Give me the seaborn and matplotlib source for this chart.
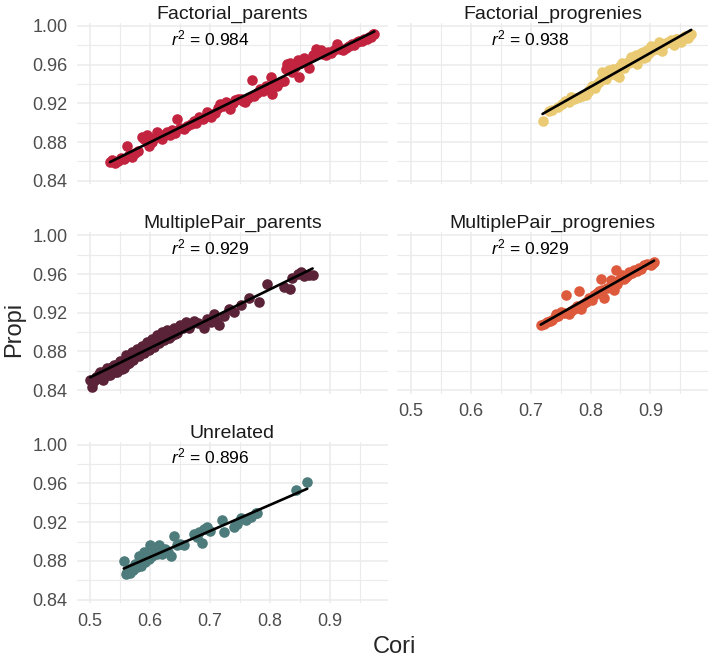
import matplotlib
matplotlib.use("Agg")
import matplotlib.pyplot as plt
from matplotlib.ticker import FormatStrFormatter, MultipleLocator
import pandas as pd
import seaborn as sns

# --- data ---

groups = [
    "Factorial_parents",
    "Factorial_progrenies",
    "MultiplePair_parents",
    "MultiplePair_progrenies",
    "Unrelated",
]
colors = ["#C2243F", "#EACB74", "#5A2337", "#DD5A3D", "#4E7B7B"]
r2_labels = ["0.984", "0.938", "0.929", "0.929", "0.896"]

fp_cori = [
    0.533, 0.537, 0.541, 0.546, 0.551, 0.556, 0.561, 0.565, 0.570, 0.575,
    0.580, 0.586, 0.590, 0.594, 0.598, 0.603, 0.607, 0.611, 0.615, 0.620,
    0.624, 0.628, 0.633, 0.637, 0.641, 0.645, 0.650, 0.656, 0.662, 0.668,
    0.673, 0.677, 0.681, 0.688, 0.695, 0.701, 0.708, 0.713, 0.717, 0.722,
    0.726, 0.731, 0.734, 0.738, 0.742, 0.747, 0.751, 0.755, 0.759, 0.764,
    0.770, 0.773, 0.778, 0.784, 0.788, 0.793, 0.797, 0.801, 0.804, 0.808,
    0.812, 0.817, 0.823, 0.826, 0.829, 0.834, 0.837, 0.841, 0.846, 0.848,
    0.852, 0.857, 0.861, 0.865, 0.871, 0.876, 0.880, 0.885, 0.889, 0.893,
    0.897, 0.901, 0.906, 0.912, 0.916, 0.921, 0.926, 0.932, 0.936, 0.940,
    0.945, 0.949, 0.953, 0.957, 0.961, 0.965, 0.968, 0.971, 0.974,
]
fp_propi = [
    0.859, 0.861, 0.858, 0.860, 0.863, 0.862, 0.876, 0.867, 0.865, 0.869,
    0.871, 0.885, 0.883, 0.887, 0.876, 0.880, 0.884, 0.890, 0.886, 0.883,
    0.888, 0.890, 0.887, 0.892, 0.889, 0.904, 0.894, 0.893, 0.897, 0.899,
    0.902, 0.900, 0.906, 0.904, 0.911, 0.906, 0.910, 0.915, 0.919, 0.917,
    0.921, 0.918, 0.914, 0.920, 0.923, 0.924, 0.925, 0.922, 0.921, 0.926,
    0.944, 0.928, 0.931, 0.935, 0.933, 0.938, 0.936, 0.947, 0.930, 0.940,
    0.938, 0.942, 0.943, 0.956, 0.961, 0.962, 0.952, 0.958, 0.965, 0.947,
    0.962, 0.967, 0.964, 0.957, 0.970, 0.976, 0.973, 0.975, 0.971, 0.970,
    0.973, 0.972, 0.975, 0.981, 0.976, 0.975, 0.977, 0.979, 0.981, 0.980,
    0.983, 0.984, 0.984, 0.987, 0.986, 0.989, 0.989, 0.992, 0.992,
]

fg_cori = [
    0.720, 0.731, 0.736, 0.745, 0.753, 0.758, 0.764, 0.767, 0.772, 0.775,
    0.781, 0.786, 0.792, 0.796, 0.798, 0.803, 0.807, 0.811, 0.814, 0.818,
    0.820, 0.823, 0.826, 0.829, 0.831, 0.835, 0.838, 0.842, 0.845, 0.848,
    0.848, 0.851, 0.853, 0.856, 0.859, 0.862, 0.865, 0.867, 0.870, 0.873,
    0.876, 0.878, 0.881, 0.884, 0.887, 0.890, 0.892, 0.895, 0.898, 0.901,
    0.905, 0.909, 0.912, 0.915, 0.918, 0.920, 0.923, 0.926, 0.930, 0.934,
    0.937, 0.940, 0.943, 0.945, 0.948, 0.951, 0.954, 0.957, 0.960, 0.962,
    0.965, 0.968,
]
fg_propi = [
    0.902, 0.912, 0.913, 0.916, 0.919, 0.922, 0.921, 0.927, 0.924, 0.926,
    0.927, 0.928, 0.929, 0.932, 0.934, 0.938, 0.936, 0.940, 0.942, 0.944,
    0.952, 0.948, 0.945, 0.951, 0.954, 0.950, 0.955, 0.949, 0.956, 0.958,
    0.947, 0.960, 0.962, 0.957, 0.961, 0.963, 0.962, 0.968, 0.964, 0.966,
    0.970, 0.961, 0.968, 0.972, 0.973, 0.967, 0.968, 0.975, 0.972, 0.979,
    0.975, 0.976, 0.980, 0.983, 0.978, 0.974, 0.981, 0.982, 0.983, 0.985,
    0.982, 0.980, 0.986, 0.987, 0.985, 0.983, 0.988, 0.990, 0.988, 0.988,
    0.990, 0.992,
]

mp_cori = [
    0.500, 0.503, 0.506, 0.510, 0.514, 0.517, 0.520, 0.522, 0.525, 0.528,
    0.530, 0.533, 0.536, 0.539, 0.541, 0.545, 0.547, 0.550, 0.553, 0.556,
    0.558, 0.559, 0.562, 0.564, 0.567, 0.570, 0.572, 0.575, 0.578, 0.581,
    0.583, 0.586, 0.589, 0.591, 0.595, 0.598, 0.600, 0.603, 0.606, 0.608,
    0.611, 0.614, 0.617, 0.620, 0.623, 0.626, 0.628, 0.631, 0.634, 0.637,
    0.639, 0.642, 0.645, 0.648, 0.650, 0.655, 0.659, 0.664, 0.668, 0.673,
    0.680, 0.690, 0.695, 0.701, 0.706, 0.710, 0.715, 0.723, 0.731, 0.740,
    0.751, 0.765, 0.781, 0.795, 0.823, 0.834, 0.837, 0.846, 0.851, 0.857,
    0.865, 0.871,
]
mp_propi = [
    0.851, 0.843, 0.849, 0.854, 0.857, 0.859, 0.852, 0.851, 0.860, 0.863,
    0.856, 0.856, 0.864, 0.866, 0.859, 0.859, 0.867, 0.870, 0.862, 0.863,
    0.871, 0.876, 0.867, 0.868, 0.874, 0.879, 0.871, 0.877, 0.883, 0.875,
    0.880, 0.886, 0.878, 0.883, 0.890, 0.882, 0.887, 0.893, 0.885, 0.890,
    0.897, 0.889, 0.893, 0.900, 0.892, 0.897, 0.902, 0.894, 0.896, 0.901,
    0.904, 0.898, 0.899, 0.904, 0.907, 0.904, 0.910, 0.904, 0.908, 0.912,
    0.909, 0.904, 0.914, 0.910, 0.919, 0.912, 0.907, 0.917, 0.924, 0.921,
    0.928, 0.935, 0.931, 0.950, 0.947, 0.945, 0.956, 0.960, 0.962, 0.958,
    0.959, 0.959,
]

mg_cori = [
    0.717, 0.722, 0.728, 0.732, 0.736, 0.740, 0.742, 0.746, 0.750, 0.755,
    0.759, 0.764, 0.768, 0.773, 0.778, 0.781, 0.784, 0.788, 0.792, 0.798,
    0.802, 0.806, 0.810, 0.814, 0.817, 0.820, 0.823, 0.828, 0.834, 0.839,
    0.842, 0.845, 0.848, 0.853, 0.856, 0.859, 0.862, 0.865, 0.869, 0.873,
    0.877, 0.881, 0.885, 0.890, 0.895, 0.901, 0.904, 0.906,
]
mg_propi = [
    0.907, 0.908, 0.910, 0.912, 0.913, 0.916, 0.919, 0.917, 0.921, 0.920,
    0.938, 0.919, 0.922, 0.924, 0.927, 0.943, 0.924, 0.929, 0.931, 0.935,
    0.933, 0.938, 0.940, 0.942, 0.955, 0.944, 0.935, 0.946, 0.954, 0.944,
    0.964, 0.950, 0.954, 0.959, 0.955, 0.957, 0.959, 0.962, 0.961, 0.964,
    0.963, 0.966, 0.965, 0.969, 0.970, 0.969, 0.971, 0.972,
]

un_cori = [
    0.556, 0.559, 0.561, 0.564, 0.567, 0.570, 0.572, 0.575, 0.578, 0.581,
    0.584, 0.586, 0.589, 0.592, 0.595, 0.598, 0.600, 0.603, 0.606, 0.609,
    0.612, 0.614, 0.617, 0.620, 0.623, 0.625, 0.629, 0.634, 0.639, 0.645,
    0.650, 0.656, 0.673, 0.678, 0.681, 0.687, 0.690, 0.695, 0.700, 0.720,
    0.723, 0.740, 0.745, 0.751, 0.760, 0.768, 0.776, 0.779, 0.843, 0.862,
]
un_propi = [
    0.880, 0.866, 0.869, 0.870, 0.868, 0.873, 0.871, 0.877, 0.874, 0.885,
    0.875, 0.880, 0.889, 0.879, 0.884, 0.882, 0.896, 0.885, 0.890, 0.891,
    0.887, 0.896, 0.893, 0.887, 0.890, 0.892, 0.889, 0.885, 0.906, 0.896,
    0.897, 0.896, 0.908, 0.905, 0.910, 0.899, 0.913, 0.915, 0.911, 0.922,
    0.910, 0.915, 0.918, 0.924, 0.922, 0.925, 0.929, 0.929, 0.953, 0.962,
]

series = {
    "Factorial_parents": (fp_cori, fp_propi),
    "Factorial_progrenies": (fg_cori, fg_propi),
    "MultiplePair_parents": (mp_cori, mp_propi),
    "MultiplePair_progrenies": (mg_cori, mg_propi),
    "Unrelated": (un_cori, un_propi),
}

df = pd.concat(
    [pd.DataFrame({"Cori": c, "Propi": p, "group": g}) for g, (c, p) in series.items()],
    ignore_index=True,
)

# --- style ---

sns.set_theme(style="white")
plt.rcParams["font.family"] = ["Liberation Sans", "DejaVu Sans"]
plt.rcParams["mathtext.fontset"] = "custom"
plt.rcParams["mathtext.rm"] = "Liberation Sans"
plt.rcParams["mathtext.it"] = "Liberation Sans:italic"

g = sns.FacetGrid(
    df, col="group", col_order=groups, col_wrap=2,
    sharex=True, sharey=True, height=2, aspect=1.9, despine=False,
)
g.figure.set_size_inches(7.09, 6.58)
g.figure.subplots_adjust(
    left=0.1086, right=0.9986, top=0.965, bottom=0.0836, wspace=0.032, hspace=0.30
)

for name, col, r2 in zip(groups, colors, r2_labels):
    ax = g.axes_dict[name]
    sub = df[df["group"] == name]
    sns.scatterplot(data=sub, x="Cori", y="Propi", color=col, s=58,
                    linewidth=0, ax=ax, zorder=3)
    sns.regplot(data=sub, x="Cori", y="Propi", scatter=False, ci=None,
                color="black", line_kws={"linewidth": 1.9, "zorder": 4}, ax=ax)
    ax.text(0.70, 0.9875, r"$r^2$ = " + r2, ha="center", va="center",
            fontsize=12.5, color="black", zorder=5)

    ax.set_xlim(0.478, 0.996)
    ax.set_ylim(0.8365, 1.003)
    ax.xaxis.set_major_locator(MultipleLocator(0.1))
    ax.xaxis.set_minor_locator(MultipleLocator(0.05))
    ax.set_yticks([0.84, 0.88, 0.92, 0.96, 1.00])
    ax.yaxis.set_minor_locator(MultipleLocator(0.02))
    ax.grid(which="major", color="#EBEBEB", linewidth=1.1)
    ax.grid(which="minor", color="#EBEBEB", linewidth=0.8)
    ax.set_axisbelow(True)
    for s in ax.spines.values():
        s.set_visible(False)
    ax.set_xlabel("")
    ax.set_ylabel("")
    ax.set_title(name, fontsize=14, color="#1A1A1A", pad=3)
    ax.tick_params(which="major", length=3, width=0.8, color="#DDDDDD",
                   labelsize=13, labelcolor="#4D4D4D", pad=4)
    ax.tick_params(which="minor", length=0)

g.axes_dict["Factorial_parents"].yaxis.set_major_formatter(FormatStrFormatter("%.2f"))

g.figure.text(0.557, 0.016, "Cori", ha="center", va="center", fontsize=17)
g.figure.text(0.005, 0.50, "Propi", ha="left", va="center", rotation=90, fontsize=17)

g.figure.savefig("out.png", dpi=100)
